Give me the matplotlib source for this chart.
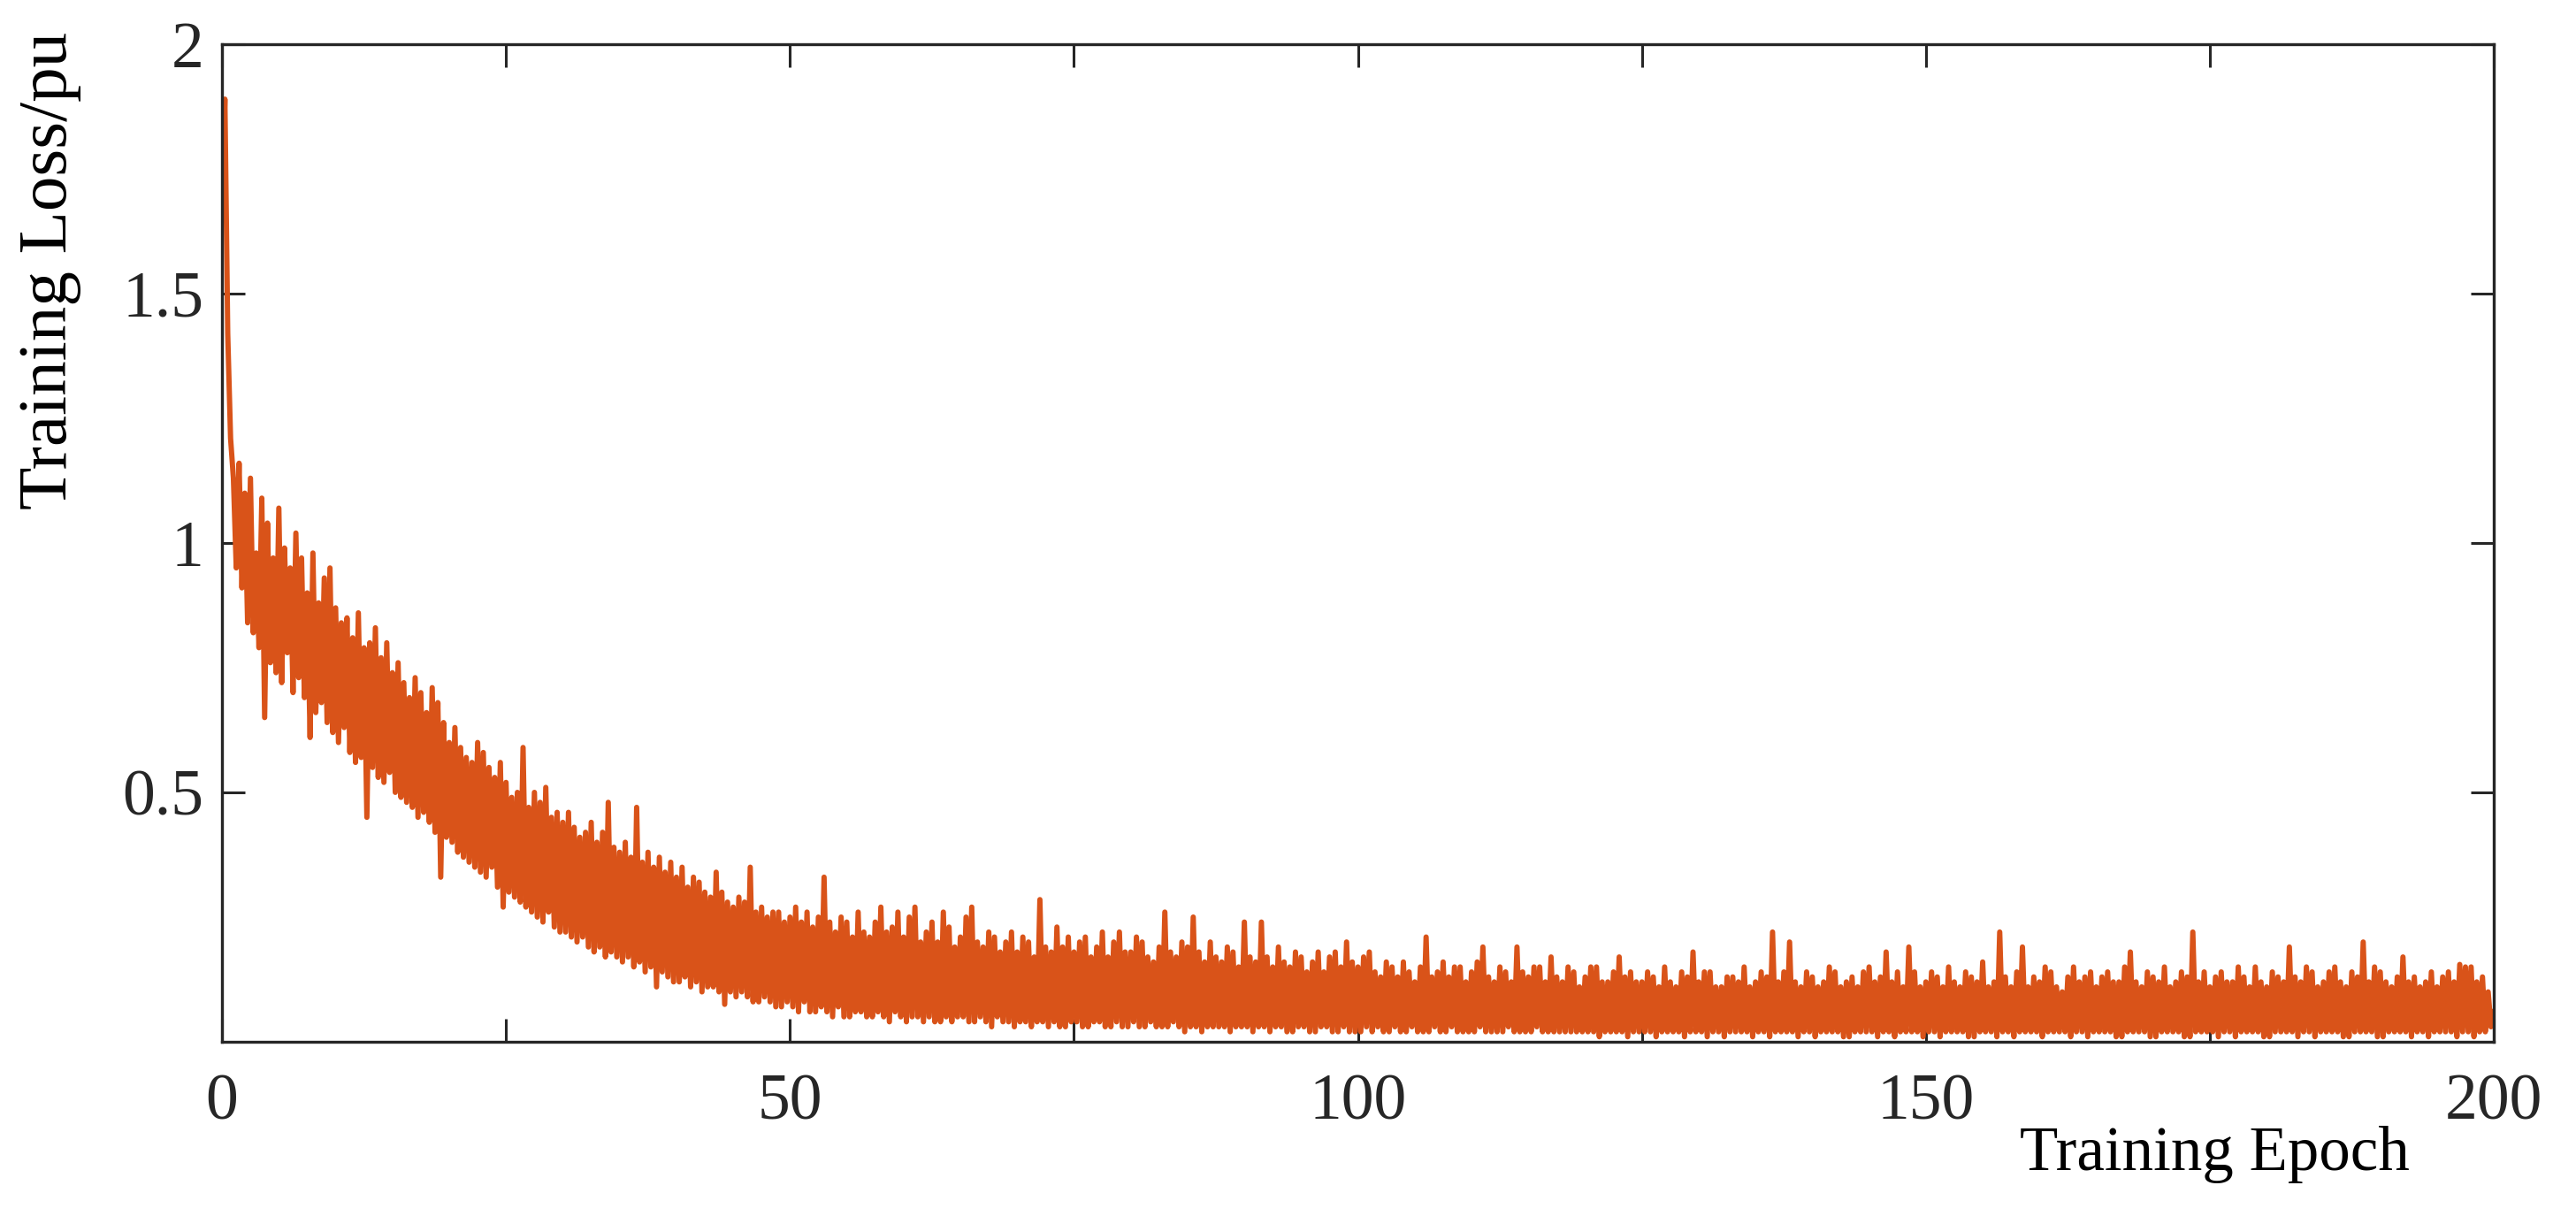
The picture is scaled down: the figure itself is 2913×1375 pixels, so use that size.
import numpy as np
import matplotlib
matplotlib.use("Agg")
import matplotlib.pyplot as plt

# loss values, 4 samples per epoch
steps_per_epoch = 4

loss_000_025 = [1.70, 1.89, 1.42, 1.21,  1.13, 0.95, 1.16, 0.91,  1.10, 0.84, 1.13, 0.82,  0.98, 0.79, 1.09, 0.65,
                1.04, 0.76, 0.97, 0.74,  1.07, 0.72, 0.99, 0.78,  0.95, 0.70, 1.02, 0.73,  0.97, 0.69, 0.90, 0.61,
                0.98, 0.66, 0.88, 0.68,  0.93, 0.64, 0.95, 0.62,  0.87, 0.60, 0.84, 0.63,  0.85, 0.58, 0.81, 0.56,
                0.86, 0.57, 0.79, 0.45,  0.80, 0.55, 0.83, 0.53,  0.77, 0.52, 0.80, 0.54,  0.74, 0.50, 0.76, 0.49,
                0.72, 0.48, 0.69, 0.47,  0.73, 0.45, 0.70, 0.46,  0.66, 0.44, 0.71, 0.42,  0.68, 0.33, 0.64, 0.41,
                0.60, 0.40, 0.63, 0.38,  0.59, 0.37, 0.57, 0.36,  0.56, 0.35, 0.60, 0.34,  0.58, 0.33, 0.55, 0.35,
                0.53, 0.31, 0.56, 0.27]
loss_025_050 = [0.52, 0.30, 0.49, 0.29,  0.50, 0.28, 0.59, 0.27,  0.47, 0.26, 0.50, 0.25,  0.48, 0.24, 0.51, 0.26,
                0.45, 0.23, 0.46, 0.22,  0.44, 0.22, 0.46, 0.21,  0.43, 0.20, 0.41, 0.21,  0.42, 0.19, 0.44, 0.18,
                0.40, 0.19, 0.42, 0.17,  0.48, 0.18, 0.39, 0.17,  0.38, 0.16, 0.40, 0.17,  0.37, 0.15, 0.47, 0.16,
                0.36, 0.14, 0.38, 0.15,  0.35, 0.11, 0.37, 0.14,  0.34, 0.13, 0.36, 0.12,  0.33, 0.12, 0.35, 0.13,
                0.31, 0.11, 0.33, 0.12,  0.32, 0.10, 0.30, 0.11,  0.29, 0.11, 0.34, 0.10,  0.30, 0.075, 0.28, 0.10,
                0.27, 0.09, 0.29, 0.10,  0.28, 0.09, 0.35, 0.08,  0.26, 0.08, 0.27, 0.09,  0.25, 0.08, 0.26, 0.07,
                0.26, 0.07, 0.24, 0.08]
loss_050_075 = [0.25, 0.07, 0.27, 0.06,  0.24, 0.08, 0.26, 0.06,  0.23, 0.06, 0.25, 0.07,  0.33, 0.06, 0.24, 0.05,
                0.22, 0.07, 0.25, 0.05,  0.24, 0.05, 0.21, 0.06,  0.26, 0.06, 0.22, 0.05,  0.21, 0.05, 0.24, 0.06,
                0.27, 0.05, 0.22, 0.04,  0.23, 0.06, 0.26, 0.05,  0.21, 0.04, 0.25, 0.05,  0.27, 0.05, 0.20, 0.04,
                0.22, 0.05, 0.24, 0.04,  0.20, 0.04, 0.26, 0.05,  0.23, 0.04, 0.19, 0.05,  0.21, 0.05, 0.25, 0.04,
                0.27, 0.04, 0.20, 0.05,  0.19, 0.04, 0.22, 0.03,  0.21, 0.05, 0.18, 0.04,  0.20, 0.04, 0.22, 0.03,
                0.18, 0.04, 0.21, 0.04,  0.20, 0.03, 0.17, 0.04,  0.285, 0.04, 0.19, 0.03,  0.18, 0.04, 0.23, 0.03,
                0.19, 0.03, 0.21, 0.04]
loss_075_100 = [0.18, 0.04, 0.20, 0.03,  0.21, 0.03, 0.17, 0.04,  0.19, 0.04, 0.22, 0.03,  0.17, 0.03, 0.20, 0.04,
                0.22, 0.03, 0.18, 0.03,  0.18, 0.04, 0.21, 0.03,  0.20, 0.03, 0.17, 0.04,  0.16, 0.03, 0.19, 0.03,
                0.26, 0.03, 0.18, 0.04,  0.17, 0.03, 0.20, 0.02,  0.19, 0.03, 0.25, 0.03,  0.18, 0.02, 0.16, 0.03,
                0.20, 0.03, 0.17, 0.03,  0.16, 0.03, 0.19, 0.02,  0.18, 0.03, 0.15, 0.03,  0.24, 0.03, 0.17, 0.02,
                0.16, 0.03, 0.24, 0.03,  0.17, 0.02, 0.15, 0.03,  0.19, 0.03, 0.16, 0.02,  0.15, 0.02, 0.18, 0.03,
                0.17, 0.03, 0.14, 0.02,  0.16, 0.02, 0.18, 0.03,  0.14, 0.03, 0.17, 0.02,  0.18, 0.02, 0.15, 0.03,
                0.20, 0.02, 0.16, 0.02]
loss_100_125 = [0.15, 0.02, 0.17, 0.03,  0.18, 0.02, 0.14, 0.03,  0.13, 0.02, 0.16, 0.02,  0.15, 0.03, 0.13, 0.02,
                0.16, 0.02, 0.14, 0.03,  0.12, 0.02, 0.15, 0.02,  0.21, 0.02, 0.13, 0.03,  0.14, 0.02, 0.16, 0.02,
                0.13, 0.03, 0.15, 0.02,  0.15, 0.02, 0.12, 0.02,  0.14, 0.02, 0.16, 0.03,  0.19, 0.02, 0.13, 0.02,
                0.12, 0.02, 0.15, 0.02,  0.14, 0.03, 0.12, 0.02,  0.19, 0.02, 0.14, 0.02,  0.13, 0.02, 0.15, 0.03,
                0.15, 0.02, 0.12, 0.02,  0.17, 0.02, 0.13, 0.02,  0.12, 0.02, 0.15, 0.02,  0.14, 0.02, 0.11, 0.02,
                0.13, 0.02, 0.15, 0.02,  0.15, 0.01, 0.12, 0.02,  0.12, 0.02, 0.14, 0.02,  0.17, 0.02, 0.13, 0.01,
                0.14, 0.02, 0.12, 0.02]
loss_125_150 = [0.12, 0.02, 0.14, 0.02,  0.13, 0.01, 0.11, 0.02,  0.15, 0.02, 0.12, 0.02,  0.11, 0.02, 0.14, 0.01,
                0.13, 0.02, 0.18, 0.02,  0.12, 0.02, 0.14, 0.01,  0.14, 0.02, 0.11, 0.02,  0.11, 0.01, 0.13, 0.02,
                0.13, 0.02, 0.12, 0.02,  0.15, 0.02, 0.11, 0.01,  0.12, 0.02, 0.14, 0.02,  0.13, 0.01, 0.22, 0.02,
                0.12, 0.02, 0.14, 0.02,  0.20, 0.02, 0.12, 0.01,  0.11, 0.02, 0.14, 0.02,  0.13, 0.01, 0.11, 0.02,
                0.12, 0.02, 0.15, 0.02,  0.14, 0.02, 0.11, 0.01,  0.12, 0.01, 0.13, 0.02,  0.11, 0.02, 0.14, 0.02,
                0.15, 0.02, 0.12, 0.01,  0.13, 0.02, 0.18, 0.02,  0.12, 0.01, 0.14, 0.02,  0.11, 0.02, 0.19, 0.02,
                0.14, 0.02, 0.11, 0.01]
loss_150_175 = [0.12, 0.02, 0.14, 0.02,  0.13, 0.01, 0.11, 0.02,  0.15, 0.02, 0.12, 0.02,  0.11, 0.02, 0.14, 0.01,
                0.13, 0.01, 0.12, 0.02,  0.16, 0.02, 0.11, 0.02,  0.12, 0.01, 0.22, 0.02,  0.13, 0.02, 0.11, 0.01,
                0.14, 0.02, 0.19, 0.02,  0.11, 0.02, 0.13, 0.02,  0.12, 0.01, 0.15, 0.02,  0.14, 0.02, 0.11, 0.02,
                0.10, 0.02, 0.13, 0.01,  0.15, 0.02, 0.12, 0.02,  0.13, 0.01, 0.14, 0.02,  0.11, 0.02, 0.13, 0.02,
                0.14, 0.02, 0.12, 0.01,  0.12, 0.01, 0.15, 0.02,  0.18, 0.02, 0.12, 0.02,  0.11, 0.02, 0.14, 0.01,
                0.13, 0.01, 0.12, 0.02,  0.15, 0.02, 0.11, 0.02,  0.12, 0.02, 0.14, 0.01,  0.13, 0.01, 0.22, 0.02,
                0.12, 0.02, 0.14, 0.02]
loss_175_200 = [0.11, 0.02, 0.13, 0.01,  0.14, 0.02, 0.12, 0.02,  0.12, 0.01, 0.15, 0.02,  0.13, 0.02, 0.11, 0.02,
                0.15, 0.02, 0.12, 0.01,  0.11, 0.01, 0.14, 0.02,  0.13, 0.02, 0.12, 0.02,  0.19, 0.02, 0.13, 0.01,
                0.12, 0.02, 0.15, 0.02,  0.14, 0.01, 0.11, 0.02,  0.12, 0.02, 0.14, 0.02,  0.15, 0.02, 0.12, 0.01,
                0.11, 0.01, 0.14, 0.02,  0.13, 0.02, 0.20, 0.02,  0.12, 0.02, 0.15, 0.01,  0.14, 0.01, 0.12, 0.02,
                0.11, 0.02, 0.13, 0.02,  0.17, 0.02, 0.12, 0.01,  0.13, 0.02, 0.11, 0.02,  0.12, 0.01, 0.14, 0.02,
                0.11, 0.02, 0.13, 0.02,  0.14, 0.02, 0.12, 0.01,  0.155, 0.02, 0.15, 0.02,  0.15, 0.01, 0.12, 0.02,
                0.13, 0.02, 0.10, 0.03,  0.06]

x_ticks = [0, 25, 50, 75, 100, 125, 150, 175, 200]
x_ticklabels = ["0", "", "50", "", "100", "", "150", "", "200"]
y_ticks = [0.5, 1, 1.5, 2]
y_ticklabels = ["0.5", "1", "1.5", "2"]

loss = np.array(loss_000_025 + loss_025_050 + loss_050_075 + loss_075_100 +
                loss_100_125 + loss_125_150 + loss_150_175 + loss_175_200)
epoch = np.arange(len(loss)) / steps_per_epoch

plt.rcParams["font.family"] = ["Liberation Serif", "DejaVu Serif"]
plt.rcParams["text.color"] = "#262626"

fig = plt.figure(figsize=(29.13, 13.75), dpi=100)
ax = fig.add_axes([0.0862, 0.1433, 0.8819, 0.8203])

ax.plot(epoch, loss, color="#D95319", linewidth=4.3)

ax.set_xlim(0, 200)
ax.set_ylim(0, 2)
ax.set_xticks(x_ticks)
ax.set_xticklabels(x_ticklabels)
ax.set_yticks(y_ticks)
ax.set_yticklabels(y_ticklabels)

ax.tick_params(direction="in", length=19, width=2.2, colors="#262626",
               labelsize=53, top=True, right=True)
ax.tick_params(axis="x", pad=26)
ax.tick_params(axis="y", pad=15)
for s in ax.spines.values():
    s.set_linewidth(2.4)
    s.set_color("#262626")

ax.set_xlabel("Training Epoch", fontsize=51, va="center")
ax.xaxis.set_label_coords(0.877, -0.113)
ax.set_ylabel("Training Loss/pu", fontsize=57, va="center")
ax.yaxis.set_label_coords(-0.076, 0.773)

fig.savefig("out.png", dpi=100)
